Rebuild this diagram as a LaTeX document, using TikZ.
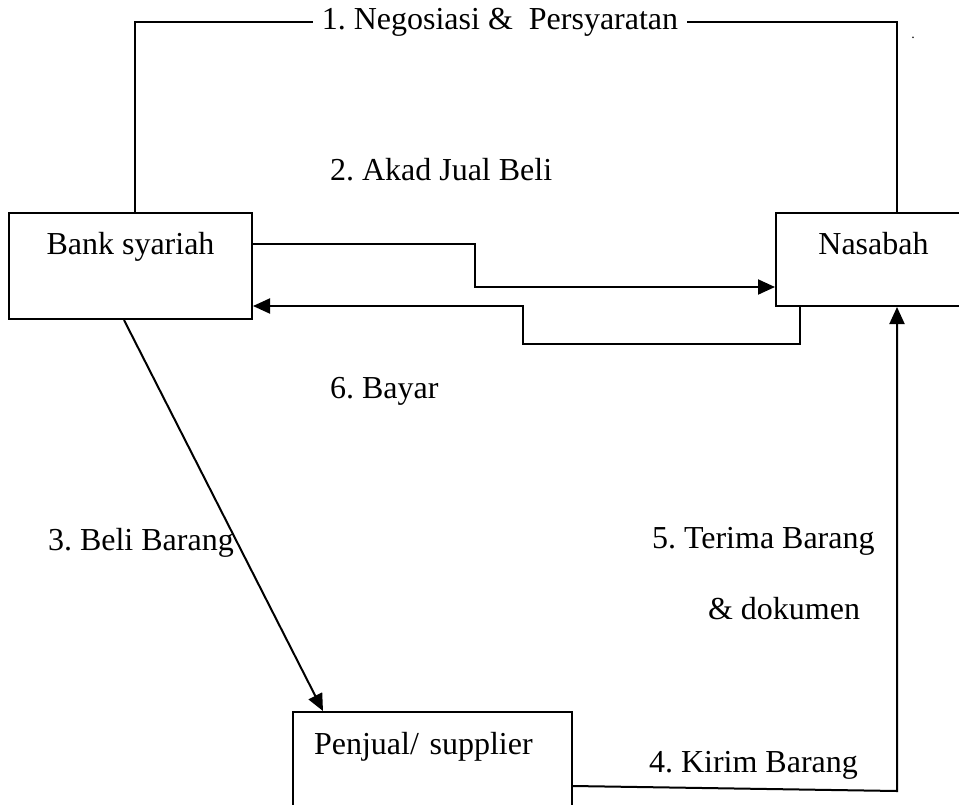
\documentclass[tikz,border=0pt]{standalone}
\usepackage{fontspec}
\setmainfont{Liberation Serif}
\usetikzlibrary{arrows.meta}
\frenchspacing

\tikzset{
    box/.style={draw, line width=2pt, inner ysep=0pt, anchor=north west},
    lbl/.style={inner sep=0pt, anchor=base west},
    arr/.style={-{Triangle[length=17pt,width=15pt]}},
}

\begin{document}
\begin{tikzpicture}[x=1pt, y=-1pt, line width=2pt, font=\fontsize{32}{38}\selectfont]
            \useasboundingbox (0,0) rectangle (959,804);
            \clip (0,0) rectangle (959,804);

            \node (bank) at (8, 212) [box, minimum width=243pt, text height=41pt, text depth=65pt] {Bank syariah};
            \node (nasabah) at (775, 212) [box, minimum width=195pt, text height=41pt, text depth=52pt] {Nasabah};
            \node (penjual) at (292, 711) [box, text width=237pt, inner xsep=21pt, align=left, text height=42pt, text depth=100pt] {Penjual/ supplier};

            \coordinate (tl) at (135, 22);
            \coordinate (tr) at (897, 22);
            \node (dot) at (913, 38) [lbl, anchor=base, font=\fontsize{14}{16}\selectfont] {.};

            % labels
            \node (akad) at (329, 180) [lbl] {2. Akad Jual Beli};
            \node (bayar) at (329, 398) [lbl] {6. Bayar};
            \node (beli) at (47, 550) [lbl] {3. Beli Barang};
            \node (terima) at (651, 548) [lbl] {5. Terima Barang};
            \node (dok) at (707, 619) [lbl] {\& dokumen};
            \node (kirim) at (648, 772) [lbl] {4. Kirim Barang};

            \draw (bank.north -| tl) -- (tl) -- node[pos=0.479, fill=white, inner xsep=9pt, inner ysep=2pt] {1. Negosiasi \&\ \ Persyaratan} (tr) -- (nasabah.north -| tr);
            \draw[arr] (bank.east |- 0,244) -- (475, 244) |- (nasabah.west |- 0,287);
            \draw[arr] (nasabah.south -| 800,0) -- (800, 344) -| (523, 306) -- (bank.east |- 0,306);
            \draw[arr] (bank.south -| 124,0) -- (penjual.north -| 323,0);
            \draw[arr] (penjual.east |- 0,786) -- (897, 791) -- (nasabah.south -| 897,0);
        \end{tikzpicture}
\end{document}
